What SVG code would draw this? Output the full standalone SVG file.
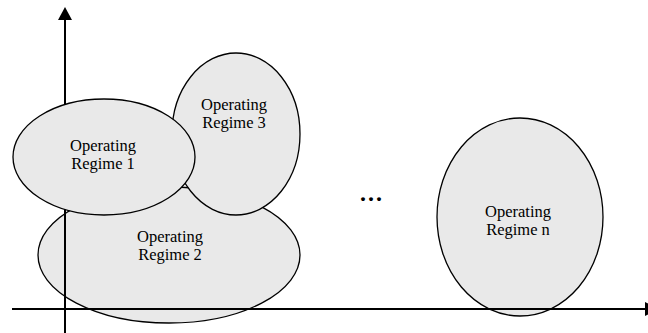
<svg xmlns="http://www.w3.org/2000/svg" width="648" height="333" viewBox="0 0 648 333">
<style>
.reg{fill:#e9e9e9;stroke:#000;stroke-width:1.3}
.lbl{font-family:"Liberation Serif","Times New Roman",serif;font-size:16.5px;fill:#000;text-anchor:middle}
.ax{stroke:#000;stroke-width:2;fill:none}
</style>
<rect width="648" height="333" fill="#fff"/>
<g id="regime2">
<ellipse class="reg" cx="169" cy="255" rx="131" ry="68"/>
<text class="lbl" x="170" y="241.5">Operating</text>
<text class="lbl" x="170" y="259.5">Regime 2</text>
</g>
<g id="regimen">
<ellipse class="reg" cx="520" cy="217" rx="83" ry="99"/>
<text class="lbl" x="518" y="216.5">Operating</text>
<text class="lbl" x="518" y="234.5">Regime n</text>
</g>
<g id="axes">
<line class="ax" x1="65" y1="18" x2="65" y2="333"/>
<polygon points="65,7 58,20 72,20" fill="#000"/>
<line class="ax" x1="12" y1="309" x2="648" y2="309"/>
<polygon points="645,302 645,316 659,309" fill="#000"/>
</g>
<g id="regime3">
<ellipse class="reg" cx="236" cy="134" rx="64" ry="81"/>
<text class="lbl" x="234" y="109.5">Operating</text>
<text class="lbl" x="234" y="127.5">Regime 3</text>
</g>
<g id="regime1">
<ellipse class="reg" cx="104" cy="157" rx="91" ry="58"/>
<text class="lbl" x="103" y="150.5">Operating</text>
<text class="lbl" x="103" y="168.5">Regime 1</text>
</g>
<g id="ellipsis">
<text x="372" y="201" style="font-family:'Liberation Serif',serif;font-size:24px;font-weight:bold;letter-spacing:2px;text-anchor:middle">...</text>
</g>
</svg>
